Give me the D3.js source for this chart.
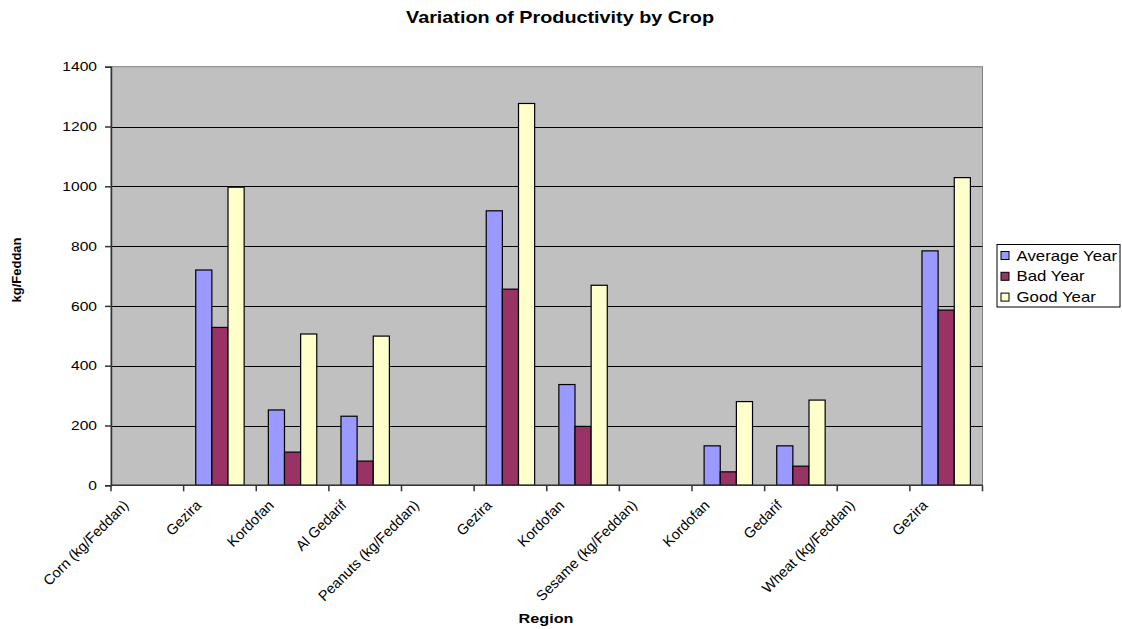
<!DOCTYPE html>
<html>
<head>
<meta charset="utf-8">
<script src="https://cdn.jsdelivr.net/npm/d3@7"></script>
<style>
  html, body { margin: 0; padding: 0; background: #fff; }
  svg { display: block; font-family: Arial, "Liberation Sans", sans-serif; }
</style>
</head>
<body>
<svg id="chart" width="1122" height="629"></svg>
<script>
// Category labels along the x axis (crop headers followed by their regions)
const categories = [
  "Corn (kg/Feddan)", "Gezira", "Kordofan", "Al Gedarif",
  "Peanuts (kg/Feddan)", "Gezira", "Kordofan",
  "Sesame (kg/Feddan)", "Kordofan", "Gedarif",
  "Wheat (kg/Feddan)", "Gezira"
];
// Productivity in kg/Feddan; null where a header row has no values
const averageYear = [null, 720, 252, 231, null, 918, 337, null, 132, 132, null, 784];
const badYear     = [null, 528, 111, 81,  null, 656, 197, null, 45,  64,  null, 586];
const goodYear    = [null, 997, 506, 499, null, 1277, 669, null, 280, 285, null, 1029];
const seriesNames = ["Average Year", "Bad Year", "Good Year"];
const seriesColors = ["#9999FF", "#993366", "#FFFFCC"];
const yTicks = [0, 200, 400, 600, 800, 1000, 1200, 1400];

const seriesValues = [averageYear, badYear, goodYear];
const svg = d3.select("#chart");
const sx = 1.2; // horizontal text stretch used throughout the chart

const plot = { left: 111, right: 982.5, top: 66.7, bottom: 485.3 };

const x = d3.scaleBand()
  .domain(d3.range(categories.length))
  .range([plot.left, plot.right])
  .paddingInner(0)
  .paddingOuter(0);

const inner = d3.scaleBand()
  .domain(d3.range(seriesNames.length))
  .range([0, x.bandwidth()])
  .paddingOuter(0.75)   // gap of 1.5 bar widths shared on both sides
  .paddingInner(0);

const y = d3.scaleLinear().domain([0, 1400]).range([plot.bottom, plot.top]);

// Plot background
svg.append("rect")
  .attr("x", plot.left).attr("y", plot.top)
  .attr("width", plot.right - plot.left).attr("height", plot.bottom - plot.top)
  .attr("fill", "#C0C0C0")
  .attr("stroke", "#808080").attr("stroke-width", 1);

// Horizontal gridlines
svg.append("g")
  .selectAll("line")
  .data(yTicks.filter(d => d > 0 && d < 1400))
  .join("line")
  .attr("x1", plot.left).attr("x2", plot.right)
  .attr("y1", d => Math.round(y(d)) + 0.5).attr("y2", d => Math.round(y(d)) + 0.5)
  .attr("stroke", "#000").attr("stroke-width", 1);

// Bars
const groups = svg.append("g")
  .selectAll("g")
  .data(categories.map((c, i) => i))
  .join("g")
  .attr("transform", i => `translate(${x(i)},0)`);

groups.selectAll("rect")
  .data(i => seriesValues.map((vals, s) => ({ s, v: vals[i] })).filter(d => d.v != null))
  .join("rect")
  .attr("x", d => inner(d.s))
  .attr("y", d => y(d.v))
  .attr("width", inner.bandwidth())
  .attr("height", d => y(0) - y(d.v))
  .attr("fill", d => seriesColors[d.s])
  .attr("stroke", "#000").attr("stroke-width", 1.2);

// Y axis
const yAxis = svg.append("g")
  .attr("transform", `translate(${plot.left},0)`)
  .call(d3.axisLeft(y).tickValues(yTicks).tickSize(6).tickPadding(8).tickFormat(d3.format("d")));
yAxis.select(".domain").attr("stroke", "#333").attr("stroke-width", 1.5);
yAxis.selectAll(".tick line").attr("stroke", "#333").attr("stroke-width", 1.5);
yAxis.selectAll(".tick text")
  .attr("font-size", 13).attr("font-family", "Arial, 'Liberation Sans', sans-serif")
  .attr("fill", "#000")
  .each(function () {
    const t = d3.select(this);
    const xx = +t.attr("x");
    t.attr("x", null).attr("transform", `translate(${xx},0) scale(${sx},1)`);
  });

// X axis: tick marks at category boundaries
const boundaries = d3.range(categories.length + 1).map(i => plot.left + i * x.bandwidth());
svg.append("line")
  .attr("x1", plot.left).attr("x2", plot.right)
  .attr("y1", plot.bottom).attr("y2", plot.bottom)
  .attr("stroke", "#333").attr("stroke-width", 1.5);
svg.append("g")
  .selectAll("line")
  .data(boundaries)
  .join("line")
  .attr("x1", d => d).attr("x2", d => d)
  .attr("y1", plot.bottom).attr("y2", plot.bottom + 6)
  .attr("stroke", "#333").attr("stroke-width", 1.5);

// Rotated category labels
svg.append("g")
  .selectAll("text")
  .data(categories)
  .join("text")
  .attr("transform", (d, i) => `translate(${x(i) + x.bandwidth() / 2 - 25},499) rotate(-45)`)
  .attr("text-anchor", "end")
  .attr("dy", "0.7em")
  .attr("font-size", 14.5)
  .attr("fill", "#000")
  .text(d => d);

// Title
svg.append("text")
  .attr("transform", `translate(560,23) scale(${sx},1)`)
  .attr("text-anchor", "middle")
  .attr("font-size", 16.5)
  .attr("font-weight", "bold")
  .text("Variation of Productivity by Crop");

// Axis titles
svg.append("text")
  .attr("transform", `translate(546,623) scale(${sx},1)`)
  .attr("text-anchor", "middle")
  .attr("font-size", 13.5)
  .attr("font-weight", "bold")
  .text("Region");

svg.append("text")
  .attr("transform", "translate(21,270) rotate(-90)")
  .attr("text-anchor", "middle")
  .attr("font-size", 13)
  .attr("font-weight", "bold")
  .text("kg/Feddan");

// Legend
const legend = svg.append("g").attr("transform", "translate(997,244.5)");
legend.append("rect")
  .attr("width", 123).attr("height", 62.5)
  .attr("fill", "#fff").attr("stroke", "#000").attr("stroke-width", 1);
const items = legend.selectAll("g.item")
  .data(seriesNames)
  .join("g")
  .attr("class", "item")
  .attr("transform", (d, i) => `translate(0,${11 + i * 20.8})`);
items.append("rect")
  .attr("x", 4).attr("y", -4)
  .attr("width", 8).attr("height", 8)
  .attr("fill", (d, i) => seriesColors[i])
  .attr("stroke", "#000").attr("stroke-width", 1);
items.append("text")
  .attr("transform", `translate(19.5,0) scale(${sx},1)`)
  .attr("dy", "0.36em")
  .attr("font-size", 14)
  .text(d => d);
</script>
</body>
</html>
